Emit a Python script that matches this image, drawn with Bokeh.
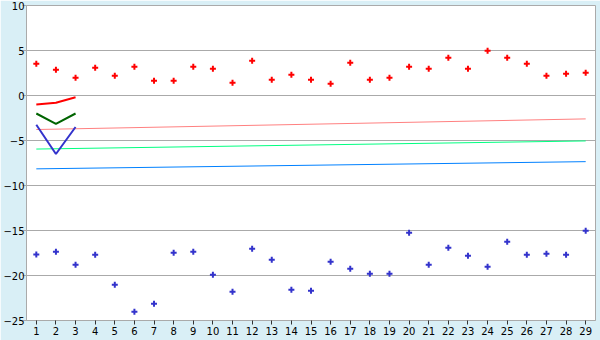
from bokeh.plotting import figure
from bokeh.models import Range1d, FixedTicker
from bokeh.embed import file_html
from bokeh.resources import INLINE

categories = list(range(1, 30))

red_points = [3.52, 2.85, 1.96, 3.07, 2.19, 3.19, 1.63, 1.63, 3.19, 2.96,
              1.41, 3.85, 1.74, 2.30, 1.74, 1.30, 3.63, 1.74, 1.96, 3.19,
              2.96, 4.19, 2.96, 4.96, 4.19, 3.52, 2.19, 2.41, 2.52]
blue_points = [-17.67, -17.37, -18.81, -17.70, -21.04, -24.04, -23.15, -17.48, -17.37, -19.93,
               -21.81, -17.04, -18.26, -21.59, -21.70, -18.48, -19.26, -19.81, -19.81, -15.26,
               -18.81, -16.93, -17.81, -19.04, -16.26, -17.70, -17.59, -17.70, -15.04]

short_x = [1, 2, 3]
red_line = [-1.0, -0.8, -0.2]
green_line = [-2.0, -3.15, -2.0]
blue_line = [-3.25, -6.5, -3.5]

trend_x = [1, 29]
pink_trend = [-3.78, -2.6]
spring_trend = [-5.95, -5.05]
azure_trend = [-8.15, -7.35]

y_ticks = [-25, -20, -15, -10, -5, 0, 5, 10]

BG = "#D9EFF6"
GRID = "#AAAAAA"

p = figure(width=600, height=340, output_backend="svg", toolbar_location=None,
           x_range=Range1d(0.5, 29.5), y_range=Range1d(-25, 10),
           min_border_left=0, min_border_right=5, min_border_top=5, min_border_bottom=20)
p.border_fill_color = BG
p.background_fill_color = "white"
p.outline_line_color = GRID
p.outline_line_width = 1

p.xgrid.grid_line_color = None
p.ygrid.grid_line_color = GRID
p.ygrid.grid_line_width = 1

p.yaxis.ticker = FixedTicker(ticks=y_ticks)
p.xaxis.ticker = FixedTicker(ticks=categories)
for ax in (p.xaxis, p.yaxis):
    ax.axis_line_color = GRID
    ax.major_tick_line_color = "#333333"
    ax.major_tick_out = 4
    ax.major_tick_in = 0
    ax.minor_tick_line_color = None
    ax.major_label_text_font = "DejaVu Sans"
    ax.major_label_text_font_size = "10px"
    ax.major_label_text_color = "black"
    ax.axis_label_standoff = 0
p.xaxis.major_label_standoff = 2
p.yaxis.major_label_standoff = -2
p.yaxis.major_tick_line_color = GRID

p.line(trend_x, pink_trend, line_color="#FF8080", line_width=1)
p.line(trend_x, spring_trend, line_color="#00FF80", line_width=1)
p.line(trend_x, azure_trend, line_color="#0080FF", line_width=1)

p.line(short_x, red_line, line_color="#FF0000", line_width=2)
p.line(short_x, green_line, line_color="#006400", line_width=2)
p.line(short_x, blue_line, line_color="#3333CC", line_width=2)

p.scatter(categories, red_points, marker="cross", size=6, line_width=2, line_color="#FF0000")
p.scatter(categories, blue_points, marker="cross", size=6, line_width=2, line_color="#3333CC")

open("out.html", "w").write(file_html(p, INLINE))
